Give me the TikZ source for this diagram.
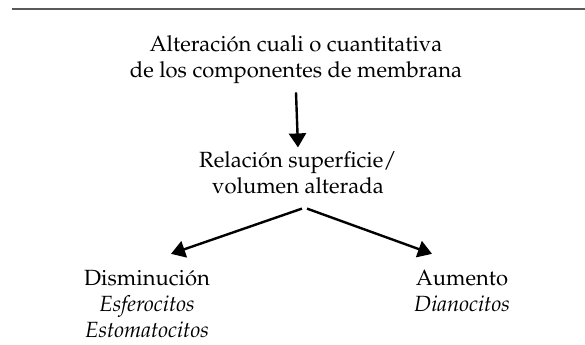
\documentclass[tikz,border=0pt]{standalone}
\usepackage[T1]{fontenc}
\usepackage{mathpazo}
\usetikzlibrary{arrows.meta}
\begin{document}
\begin{tikzpicture}
[x=0.5pt,y=-0.5pt,
  textdecorate/.style={align=center,inner sep=0pt,font=\fontsize{11}{13}\selectfont},%
  linedecorate/.style={-{Triangle[length=7pt,width=8.5pt]},line width=1.2pt},%
  ruledecorate/.style={line width=1.4pt,color=black!65}]
\useasboundingbox (0,0) rectangle (585,344);
\draw [ruledecorate] (12,9) -- (585,9);
%% nodes
\node (alter) at (296,60) [textdecorate] {Alteraci\'on cuali o cuantitativa\\de los componentes de membrana};
\node (relacion) at (298,173) [textdecorate] {Relaci\'on superficie/\\volumen alterada};
\node (dismin) at (147,304) [textdecorate] {Disminuci\'on\\\textit{Esferocitos}\\\textit{Estomatocitos}};
\node (aumento) at (462,291) [textdecorate] {Aumento\\\textit{Dianocitos}};
%% connectors
\draw [linedecorate] ([yshift=-4pt]alter.south) -- ([yshift=2pt]relacion.north);
\draw [linedecorate] ([xshift=2pt,yshift=-7pt]relacion.south) -- ([xshift=12pt,yshift=8pt]dismin.north);
\draw [linedecorate] ([xshift=4.5pt,yshift=-7pt]relacion.south) -- ([xshift=-15pt,yshift=8pt]aumento.north);
\end{tikzpicture}
\end{document}
